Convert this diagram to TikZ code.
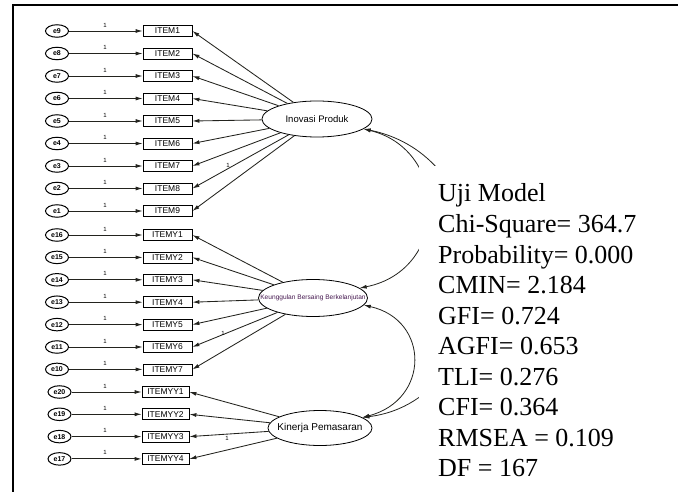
\documentclass[tikz,border=0pt]{standalone}
\usepackage{fontspec}
\setmainfont{Liberation Serif}
\newfontfamily\arialfam{Liberation Sans}
\usetikzlibrary{shapes.geometric,arrows.meta}
\definecolor{latpurple}{RGB}{70,25,80}
\definecolor{linegray}{RGB}{35,35,30}
\begin{document}
\begin{tikzpicture}[x=1pt,y=-1pt,
  err/.style={ellipse,draw,line width=1pt,minimum width=23pt,minimum height=12.5pt,
    inner sep=0pt,font=\arialfam\bfseries\fontsize{7}{7}\selectfont},
  obs/.style={rectangle,draw,line width=0.8pt,minimum width=49pt,minimum height=11pt,
    inner sep=0pt,font=\arialfam\fontsize{8.5}{8.5}\selectfont},
  lat/.style={ellipse,draw,line width=0.8pt,inner sep=0pt},
  ldg/.style={draw=linegray,line width=0.85pt,-{Latex[length=7pt,width=4pt]}},
  cov/.style={draw=linegray,line width=0.8pt,{Latex[length=7pt,width=4pt]}-{Latex[length=7pt,width=4pt]}},
  fixlbl/.style={font=\arialfam\fontsize{6}{6}\selectfont,inner sep=0pt},
  stat/.style={anchor=base west,inner sep=0pt,font=\fontsize{26}{30}\selectfont}]

\useasboundingbox (0,0) rectangle (678,492);

% latent variables
\node[lat,minimum width=110pt,minimum height=36pt] (inov) at (317,119) {};
\node[font=\arialfam\fontsize{9.5}{9.5}\selectfont] at (inov) {Inovasi Produk};
\node[lat,minimum width=109pt,minimum height=37pt] (keu) at (313,298) {};
\node[font=\arialfam\fontsize{6.6}{6.6}\selectfont,text=latpurple,inner sep=0pt] at (keu) {Keunggulan Bersaing Berkelanjutan};
\node[lat,minimum width=104pt,minimum height=35pt] (kin) at (320,428) {};
\node[font=\arialfam\fontsize{10}{10}\selectfont] at (kin) {Kinerja Pemasaran};

% Inovasi Produk indicators
\foreach \k in {1,...,9} {
  \pgfmathsetmacro\yy{31+22.5*(\k-1)}
  \pgfmathtruncatemacro\ee{10-\k}
  \node[err] (ea\k) at (57,\yy) {e\ee};
  \node[obs] (xa\k) at (167.5,\yy) {ITEM\k};
  \draw[ldg] (ea\k) -- (xa\k);
  \node[fixlbl] at (105,\yy-6) {1};
  \draw[ldg] (inov) -- (xa\k.east);
}
\node[fixlbl] at (228,165) {1};

% Keunggulan Bersaing Berkelanjutan indicators
\foreach \k in {1,...,7} {
  \pgfmathsetmacro\yy{235+22.4*(\k-1)}
  \pgfmathtruncatemacro\ee{17-\k}
  \node[err] (eb\k) at (57,\yy) {e\ee};
  \node[obs] (xb\k) at (167.5,\yy) {ITEMY\k};
  \draw[ldg] (eb\k) -- (xb\k);
  \node[fixlbl] at (105,\yy-6) {1};
  \draw[ldg] (keu) -- (xb\k.east);
}
\node[fixlbl] at (223,333) {1};

% Kinerja Pemasaran indicators
\foreach \k in {1,...,4} {
  \pgfmathsetmacro\yy{392+22.3*(\k-1)}
  \pgfmathtruncatemacro\ee{21-\k}
  \node[err] (ec\k) at (59.5,\yy) {e\ee};
  \node[obs,minimum width=47pt] (xc\k) at (165.5,\yy) {ITEMYY\k};
  \draw[ldg] (ec\k) -- (xc\k);
  \node[fixlbl] at (105,\yy-6) {1};
  \draw[ldg] (kin) -- (xc\k.east);
}
\node[fixlbl] at (227,438) {1};

% covariances between latent variables
\draw[cov] (inov.-12) .. controls (450,150) and (450,270) .. (keu.12);
\draw[cov] (inov.-12) .. controls (515,160) and (505,400) .. (kin.14);
\draw[cov] (keu.-8) .. controls (430,320) and (430,400) .. (kin.14);

% panel holding the fit statistics
\fill[white] (419,166) rectangle (678,492);
\foreach \i/\t in {0/Uji Model, 1/Chi-Square= 364.7, 2/Probability= 0.000,
    3/CMIN= 2.184, 4/GFI= 0.724, 5/AGFI= 0.653, 6/TLI= 0.276,
    7/CFI= 0.364, 8/RMSEA = 0.109, 9/DF = 167}
  \node[stat] (s\i) at (438,202+30.5*\i) {\t};

% frame
\draw[line width=2.2pt] (13,492) -- (13,5) -- (678,5);
\end{tikzpicture}
\end{document}
